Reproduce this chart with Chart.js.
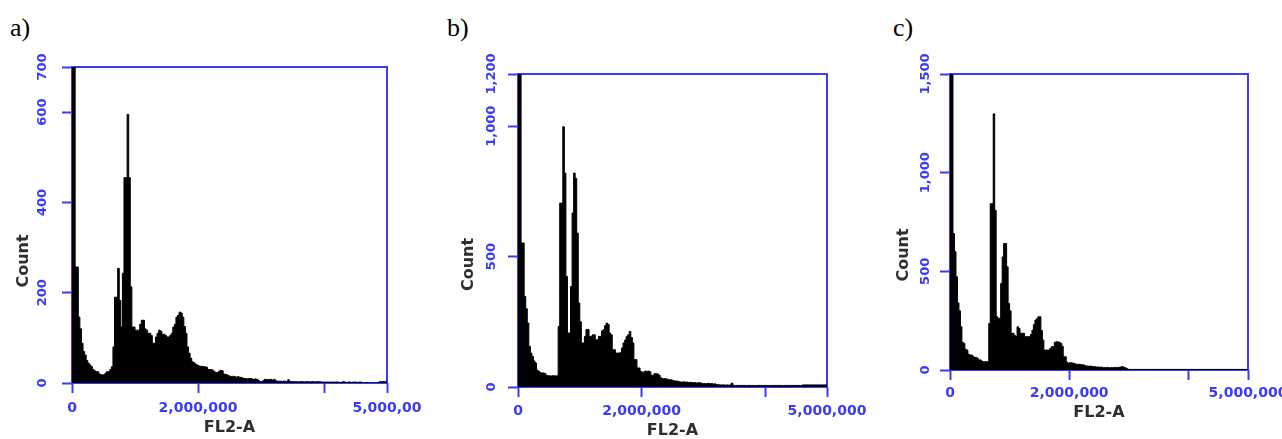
<!DOCTYPE html>
<html>
<head>
<meta charset="utf-8">
<title>FL2-A histograms</title>
<script src="https://cdn.jsdelivr.net/npm/chart.js@4.4.1/dist/chart.umd.min.js"></script>
<style>
  body { margin: 0; width: 1282px; height: 439px; position: relative; overflow: hidden; background: #fff; }
  .tag { position: absolute; top: 15px; font: 26px/26px "Liberation Serif", "Times New Roman", serif; color: #000; }
  canvas { position: absolute; top: 40px; }
</style>
</head>
<body>
<div class="tag" style="left:10px">a)</div>
<div class="tag" style="left:447px">b)</div>
<div class="tag" style="left:893px">c)</div>
<canvas id="histA" width="430" height="420" style="left:0px"></canvas>
<canvas id="histB" width="440" height="420" style="left:440px"></canvas>
<canvas id="histC" width="440" height="420" style="left:880px"></canvas>
<script>
const BLUE = '#3a3af8';
const INK = '#2e2e2e';

// FL2-A channel bins, 25,000 wide, 0 .. 5,000,000
const binWidth = 25000;

const countsA = [
  1500, 1500, 257, 257, 146, 120, 88, 70, 62, 50, 44, 40, 36, 30, 27, 25, 25, 20, 18, 18,
  18, 22, 25, 25, 30, 36, 80, 190, 190, 254, 183, 124, 243, 455, 455, 595, 455, 213, 124, 124,
  117, 117, 117, 130, 139, 139, 120, 117, 110, 110, 105, 88, 88, 102, 110, 117, 115, 108, 108, 105,
  102, 102, 105, 110, 124, 130, 146, 150, 157, 155, 146, 125, 110, 80, 66, 55, 47, 45, 42, 40,
  38, 37, 37, 36, 36, 35, 30, 30, 30, 28, 25, 23, 23, 26, 28, 27, 20, 19, 18, 16,
  15, 14, 15, 14, 13, 14, 13, 12, 11, 10, 10, 9, 10, 10, 9, 8, 9, 8, 6, 3,
  3, 5, 8, 8, 7, 8, 8, 6, 8, 5, 4, 4, 4, 3, 4, 4, 3, 7, 3, 3,
  3, 3, 3, 2, 3, 3, 3, 2, 3, 3, 3, 2, 3, 3, 2, 3, 3, 3, 2, 2,
  2, 2, 2, 2, 2, 2, 2, 2, 2, 2, 1, 2, 3, 2, 1, 2, 2, 1, 2, 2,
  2, 1, 2, 2, 0, 0, 0, 1, 0, 0, 0, 0, 0, 0, 1, 3, 3, 3, 3, 3
];

const countsB = [
  3000, 3000, 552, 552, 347, 300, 245, 156, 130, 117, 100, 92, 65, 60, 55, 54, 54, 52, 45, 43,
  43, 42, 43, 43, 42, 43, 232, 705, 705, 998, 820, 424, 207, 207, 385, 667, 820, 800, 590, 322,
  250, 169, 169, 194, 220, 220, 194, 194, 200, 200, 181, 181, 194, 194, 215, 220, 235, 245, 240, 207,
  200, 143, 143, 130, 130, 130, 132, 150, 169, 180, 194, 200, 213, 190, 169, 105, 105, 73, 73, 60,
  57, 57, 61, 60, 61, 58, 45, 45, 51, 51, 50, 45, 35, 32, 32, 32, 30, 28, 28, 27,
  24, 23, 23, 22, 20, 19, 19, 20, 18, 19, 17, 18, 17, 16, 17, 15, 16, 17, 15, 13,
  13, 12, 13, 14, 12, 13, 11, 12, 10, 9, 8, 8, 8, 8, 7, 8, 7, 8, 15, 7,
  6, 6, 6, 6, 6, 6, 6, 5, 6, 6, 6, 6, 6, 5, 6, 6, 6, 6, 6, 6,
  6, 6, 6, 5, 6, 6, 6, 6, 6, 6, 6, 5, 6, 6, 6, 6, 6, 6, 6, 6,
  6, 6, 6, 6, 8, 8, 8, 8, 8, 8, 8, 8, 8, 8, 8, 8, 8, 8, 8, 8
];

const countsC = [
  4000, 4000, 691, 600, 472, 340, 300, 219, 140, 135, 105, 101, 80, 76, 76, 70, 64, 64, 60, 51,
  51, 44, 42, 42, 42, 42, 236, 843, 843, 1298, 809, 270, 262, 262, 438, 573, 641, 641, 523, 337,
  300, 186, 186, 175, 169, 219, 210, 186, 186, 186, 169, 169, 169, 169, 180, 202, 230, 253, 260, 270,
  270, 200, 152, 101, 101, 101, 101, 110, 118, 118, 140, 143, 143, 140, 135, 120, 67, 67, 40, 34,
  37, 37, 35, 33, 29, 29, 29, 28, 26, 26, 24, 20, 20, 19, 20, 18, 17, 16, 15, 15,
  14, 15, 13, 12, 12, 13, 12, 11, 12, 12, 13, 13, 12, 14, 15, 17, 15, 12, 8, 4,
  3, 3, 3, 3, 3, 3, 3, 3, 3, 3, 3, 3, 3, 3, 3, 3, 3, 3, 3, 3,
  3, 3, 3, 3, 3, 3, 3, 3, 3, 3, 3, 3, 3, 3, 3, 3, 3, 3, 3, 3,
  3, 3, 3, 3, 3, 3, 3, 3, 3, 3, 3, 3, 3, 3, 3, 3, 3, 3, 3, 3,
  3, 3, 3, 3, 3, 3, 3, 3, 3, 3, 3, 3, 3, 3, 3, 3, 3, 3, 3, 3
];

const xTicks = [0, 2000000, 4000000, 5000000];
const xLabelsA = ['0', '2,000,000', '', '5,000,00'];
const xLabelsBC = ['0', '2,000,000', '', '5,000,000'];

const yTicksA = [0, 200, 400, 600, 700];
const yLabelsA = ['0', '200', '400', '600', '700'];
const yTicksB = [0, 500, 1000, 1200];
const yLabelsB = ['0', '500', '1,000', '1,200'];
const yTicksC = [0, 500, 1000, 1500];
const yLabelsC = ['0', '500', '1,000', '1,500'];

// blue box round the plot, rotated count labels and the "Count" title
const flowFrame = {
  id: 'flowFrame',
  beforeDatasetsDraw(chart) {
    const { ctx, chartArea: a } = chart;
    ctx.save();
    ctx.strokeStyle = BLUE;
    ctx.lineWidth = 2;
    ctx.strokeRect(a.left, a.top, a.right - a.left, a.bottom - a.top);
    ctx.restore();
  },
  afterDraw(chart, args, opts) {
    const { ctx, chartArea: a, scales: { y } } = chart;
    ctx.save();
    ctx.textAlign = 'center';
    ctx.textBaseline = 'middle';
    ctx.fillStyle = BLUE;
    ctx.font = 'bold 13px "DejaVu Sans"';
    y.ticks.forEach((t, i) => {
      ctx.save();
      ctx.translate(a.left - opts.labelGap, y.getPixelForValue(t.value));
      ctx.rotate(-Math.PI / 2);
      ctx.fillText(opts.labels[i], 0, 0);
      ctx.restore();
    });
    ctx.fillStyle = INK;
    ctx.font = 'bold 16px "DejaVu Sans"';
    ctx.translate(a.left - opts.titleGap, (a.top + a.bottom) / 2 + opts.titleShift);
    ctx.rotate(-Math.PI / 2);
    ctx.fillText('Count', 0, 0);
    ctx.restore();
  }
};

function makeHistogram(id, counts, yMax, yTicks, yLabels, xLabels, box) {
  const canvas = document.getElementById(id);
  const points = counts.map((c, i) => ({ x: i * binWidth, y: c }));
  points.push({ x: counts.length * binWidth, y: counts[counts.length - 1] });
  const tickLen = 10;
  const axisGrid = { drawOnChartArea: false, drawTicks: true, tickLength: tickLen, tickColor: BLUE, tickWidth: 2 };

  return new Chart(canvas, {
    type: 'line',
    data: {
      datasets: [{
        data: points,
        stepped: true,
        fill: 'origin',
        backgroundColor: '#000',
        borderColor: '#000',
        borderWidth: 1,
        pointRadius: 0
      }]
    },
    options: {
      responsive: false,
      animation: false,
      layout: { padding: { left: 0, top: box.top, right: canvas.width - box.right, bottom: 0 } },
      plugins: {
        legend: { display: false },
        tooltip: { enabled: false },
        flowFrame: { labels: yLabels, labelGap: box.labelGap, titleGap: box.titleGap, titleShift: box.titleShift }
      },
      scales: {
        x: {
          type: 'linear',
          min: 0,
          max: 5000000,
          afterBuildTicks: s => { s.ticks = xTicks.map(v => ({ value: v })); },
          afterFit: s => { s.height = canvas.height - box.bottom; },
          grid: axisGrid,
          border: { display: false },
          ticks: {
            color: BLUE,
            font: { family: 'DejaVu Sans', size: 14, weight: 'bold' },
            padding: box.xLabelGap - tickLen - 8.4,
            autoSkip: false,
            maxRotation: 0,
            minRotation: 0,
            callback: (v, i) => xLabels[i]
          },
          title: {
            display: true,
            text: 'FL2-A',
            color: INK,
            font: { family: 'DejaVu Sans', size: 16, weight: 'bold' },
            padding: { top: 0, bottom: canvas.height - box.bottom - box.xTitleGap - 9.6 }
          }
        },
        y: {
          min: 0,
          max: yMax,
          afterBuildTicks: s => { s.ticks = yTicks.map(v => ({ value: v })); },
          afterFit: s => { s.width = box.left; },
          grid: axisGrid,
          border: { display: false },
          ticks: { display: false }
        }
      }
    },
    plugins: [flowFrame]
  });
}

makeHistogram('histA', countsA, 700, yTicksA, yLabelsA, xLabelsA,
  { left: 72, top: 27, right: 387, bottom: 343, labelGap: 29, titleGap: 48, titleShift: 36, xLabelGap: 25, xTitleGap: 45 });
makeHistogram('histB', countsB, 1200, yTicksB, yLabelsB, xLabelsBC,
  { left: 78, top: 34, right: 387, bottom: 347, labelGap: 26, titleGap: 49, titleShift: 34, xLabelGap: 24, xTitleGap: 44 });
makeHistogram('histC', countsC, 1500, yTicksC, yLabelsC, xLabelsBC,
  { left: 70, top: 34, right: 368, bottom: 330, labelGap: 24, titleGap: 46, titleShift: 33, xLabelGap: 23, xTitleGap: 43 });
</script>
</body>
</html>
